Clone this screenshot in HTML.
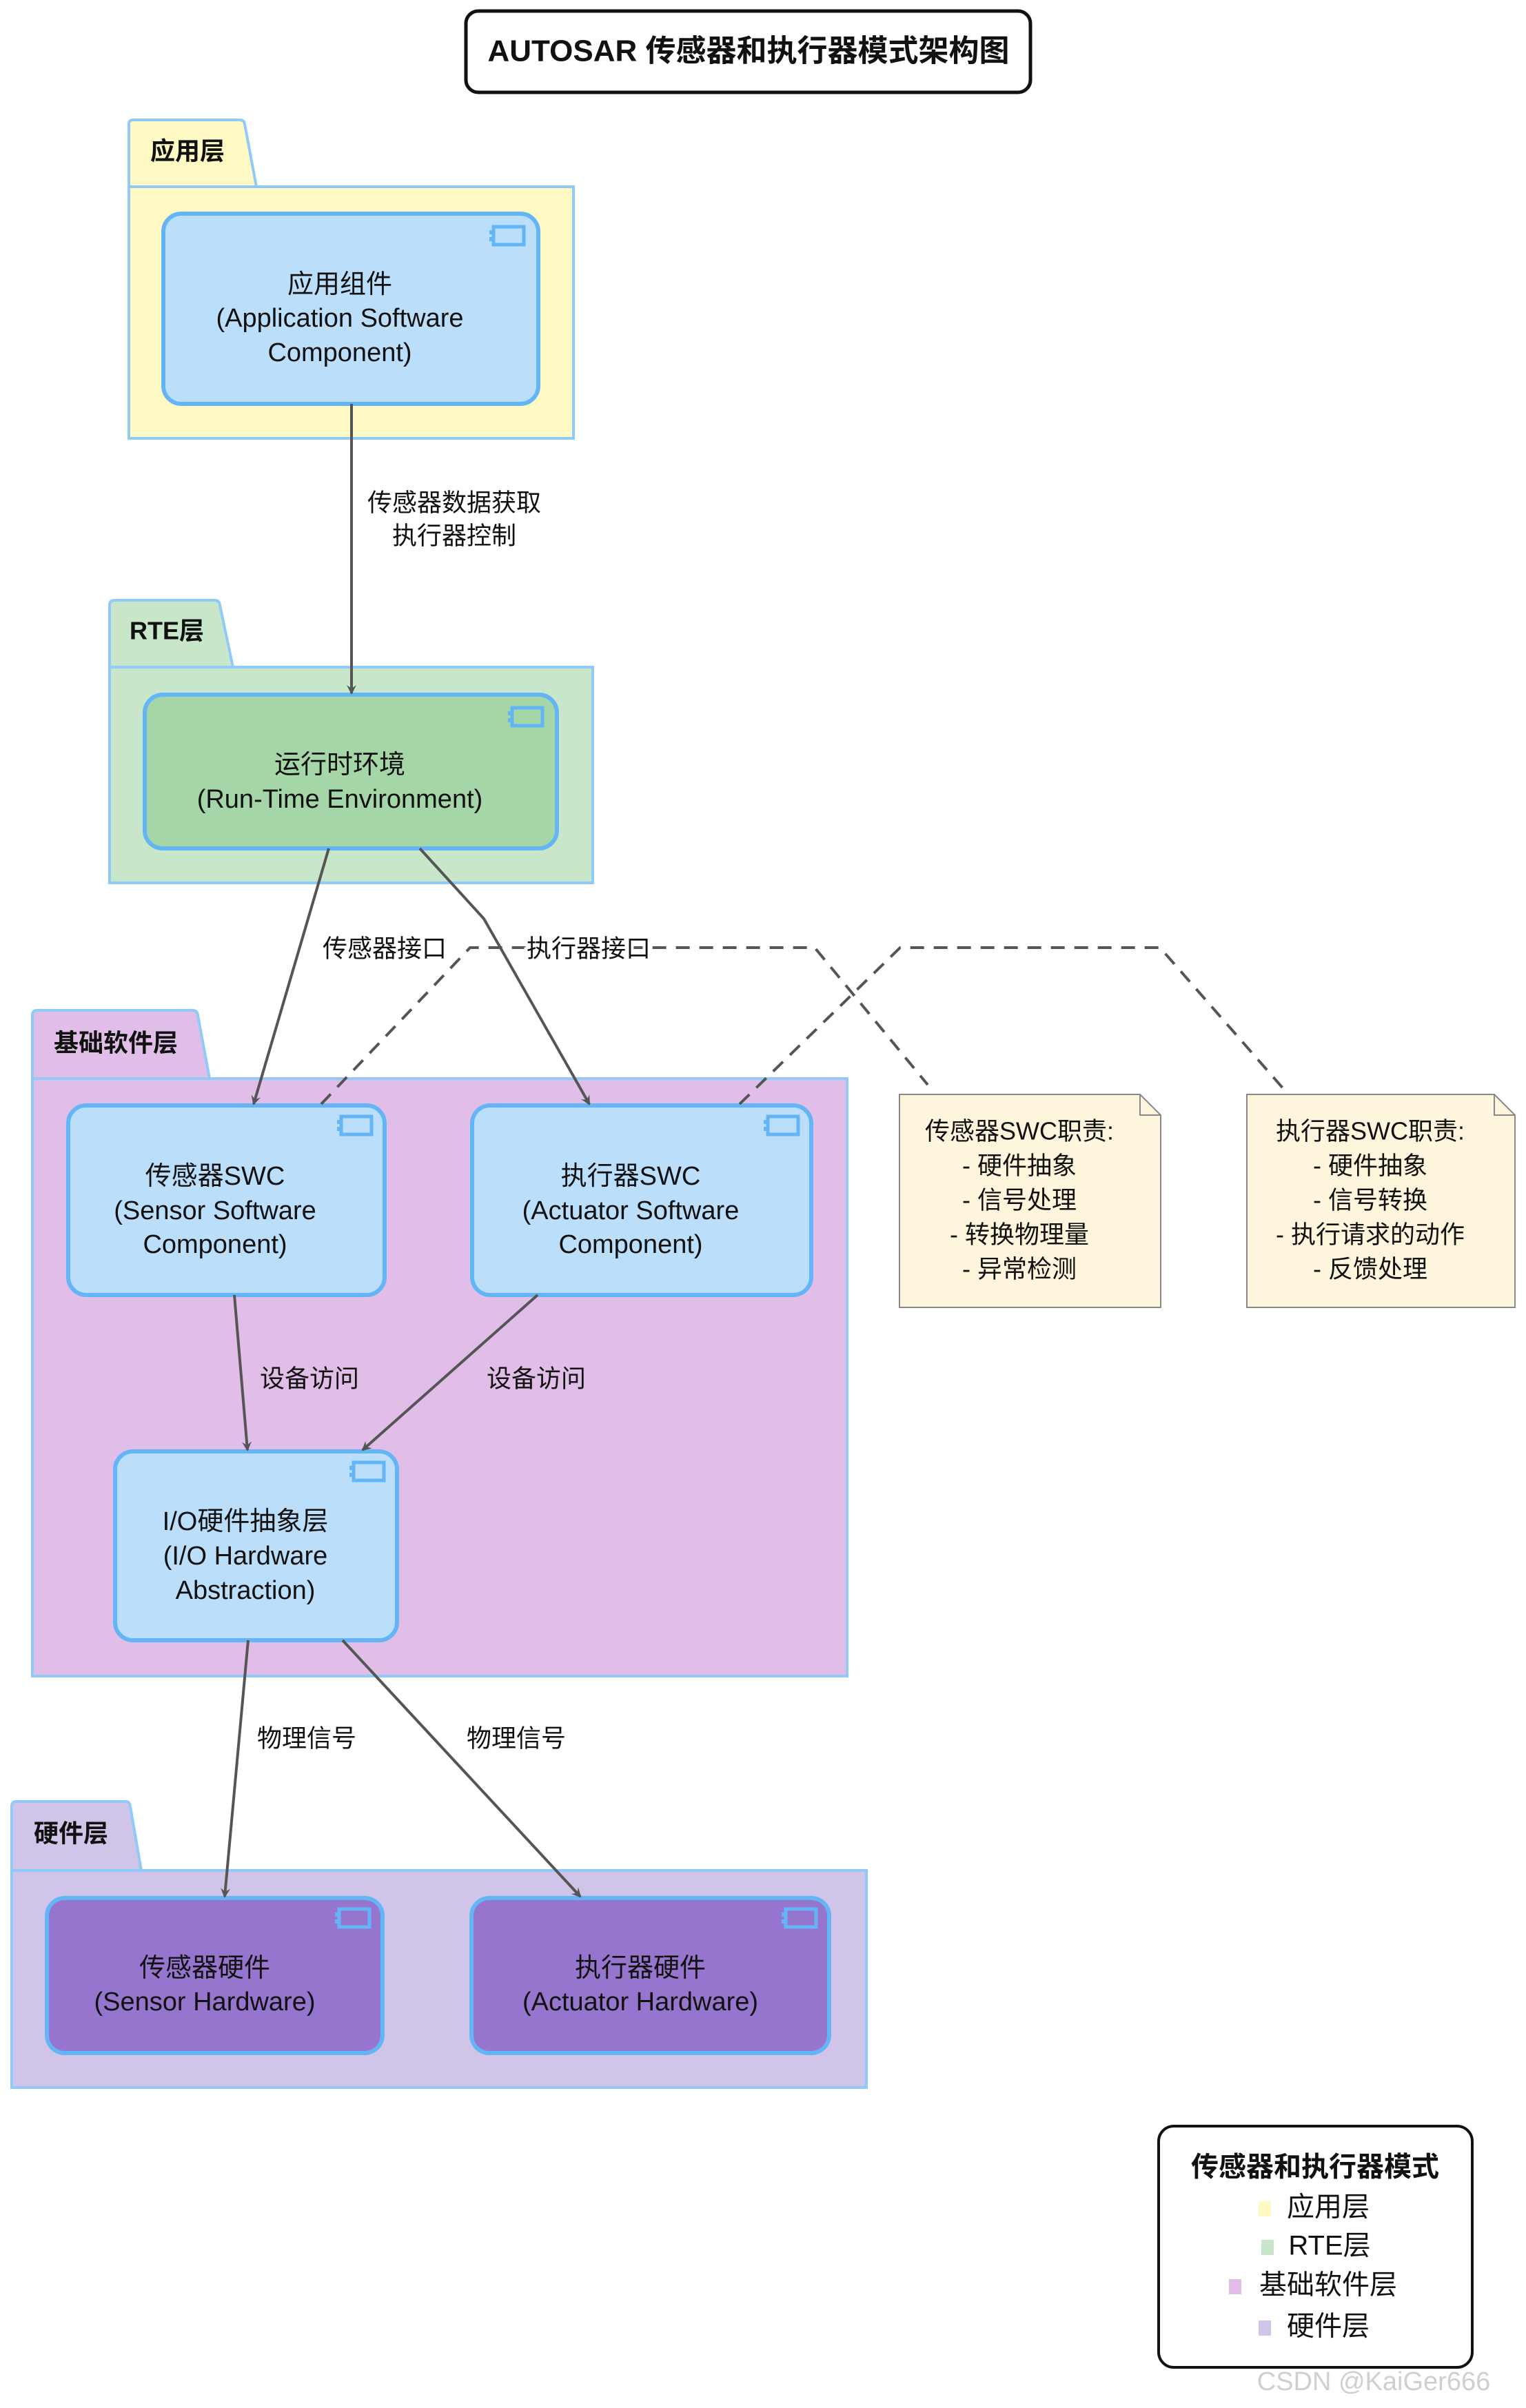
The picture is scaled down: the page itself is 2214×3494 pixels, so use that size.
<!DOCTYPE html>
<html><head><meta charset="utf-8"><style>body{margin:0;background:#fff}svg{display:block}text{font-family:"Liberation Sans","Noto Sans CJK SC",sans-serif;fill:#111;dominant-baseline:middle;text-anchor:middle}</style></head><body>
<svg width="2214" height="3494" viewBox="0 0 2214 3494" xmlns="http://www.w3.org/2000/svg">
<defs><marker id="a" markerWidth="14" markerHeight="14" refX="12" refY="7" orient="auto" markerUnits="userSpaceOnUse" viewBox="0 0 14 14"><path d="M0,0 L14,7 L0,14 L5,7 Z" fill="#555"/></marker>
<g id="ic"><rect x="0" y="0" width="44" height="26" fill="none" stroke="#64b5f6" stroke-width="5"/><rect x="-6" y="5" width="8" height="6" fill="#64b5f6"/><rect x="-6" y="15" width="8" height="6" fill="#64b5f6"/></g></defs>
<!-- title -->
<rect x="676" y="16" width="819" height="118" rx="18" fill="#fff" stroke="#111" stroke-width="5"/>
<text x="1086" y="77" font-size="44" font-weight="bold">AUTOSAR 传感器和执行器模式架构图</text>
<!-- app pkg -->
<path d="M187,271 V180 Q187,174 193,174 H348 Q354,174 355,180 L372,271 Z" fill="#fff9c4" stroke="#90caf9" stroke-width="4"/>
<rect x="187" y="271" width="645" height="365" fill="#fff9c4" stroke="#90caf9" stroke-width="4"/>
<text x="272" y="222" font-size="36" font-weight="bold">应用层</text>
<rect x="237" y="310" width="544" height="276" rx="26" fill="#bbdefb" stroke="#64b5f6" stroke-width="6"/>
<use href="#ic" x="716" y="329"/>
<text x="493" y="415" font-size="38">应用组件</text>
<text x="493" y="464" font-size="38">(Application Software</text>
<text x="493" y="514" font-size="38">Component)</text>
<!-- RTE pkg -->
<path d="M159,968 V878 Q159,871 166,871 H312 Q318,871 319,878 L338,968 Z" fill="#c8e6c9" stroke="#90caf9" stroke-width="4"/>
<rect x="159" y="968" width="701" height="313" fill="#c8e6c9" stroke="#90caf9" stroke-width="4"/>
<text x="242" y="918" font-size="36" font-weight="bold">RTE层</text>
<rect x="210" y="1008" width="598" height="223" rx="26" fill="#a5d6a7" stroke="#64b5f6" stroke-width="6"/>
<use href="#ic" x="743" y="1027"/>
<text x="493" y="1112" font-size="38">运行时环境</text>
<text x="493" y="1162" font-size="38">(Run-Time Environment)</text>
<!-- base pkg -->
<path d="M47,1565 V1473 Q47,1466 54,1466 H280 Q286,1466 287,1473 L304,1565 Z" fill="#e1bee7" stroke="#90caf9" stroke-width="4"/>
<rect x="47" y="1565" width="1182" height="867" fill="#e1bee7" stroke="#90caf9" stroke-width="4"/>
<text x="168" y="1516" font-size="36" font-weight="bold">基础软件层</text>
<rect x="99" y="1604" width="459" height="275" rx="26" fill="#bbdefb" stroke="#64b5f6" stroke-width="6"/>
<use href="#ic" x="495" y="1620"/>
<text x="312" y="1709" font-size="38">传感器SWC</text>
<text x="312" y="1759" font-size="38">(Sensor Software</text>
<text x="312" y="1808" font-size="38">Component)</text>
<rect x="685" y="1604" width="492" height="275" rx="26" fill="#bbdefb" stroke="#64b5f6" stroke-width="6"/>
<use href="#ic" x="1114" y="1620"/>
<text x="915" y="1709" font-size="38">执行器SWC</text>
<text x="915" y="1759" font-size="38">(Actuator Software</text>
<text x="915" y="1808" font-size="38">Component)</text>
<rect x="167" y="2106" width="409" height="274" rx="26" fill="#bbdefb" stroke="#64b5f6" stroke-width="6"/>
<use href="#ic" x="513" y="2122"/>
<text x="356" y="2210" font-size="38">I/O硬件抽象层</text>
<text x="356" y="2260" font-size="38">(I/O Hardware</text>
<text x="356" y="2310" font-size="38">Abstraction)</text>
<!-- hw pkg -->
<path d="M17,2714 V2621 Q17,2614 24,2614 H182 Q188,2614 189,2621 L205,2714 Z" fill="#d1c4e9" stroke="#90caf9" stroke-width="4"/>
<rect x="17" y="2714" width="1240" height="315" fill="#d1c4e9" stroke="#90caf9" stroke-width="4"/>
<text x="103" y="2663" font-size="36" font-weight="bold">硬件层</text>
<rect x="68" y="2754" width="487" height="225" rx="26" fill="#9575cd" stroke="#64b5f6" stroke-width="6"/>
<use href="#ic" x="492" y="2770"/>
<text x="297" y="2858" font-size="38">传感器硬件</text>
<text x="297" y="2907" font-size="38">(Sensor Hardware)</text>
<rect x="684" y="2754" width="519" height="225" rx="26" fill="#9575cd" stroke="#64b5f6" stroke-width="6"/>
<use href="#ic" x="1140" y="2770"/>
<text x="929" y="2858" font-size="38">执行器硬件</text>
<text x="929" y="2907" font-size="38">(Actuator Hardware)</text>
<!-- notes -->
<path d="M1305,1588 H1654 L1684,1618 V1897 H1305 Z" fill="#fdf6dc" stroke="#888" stroke-width="2"/>
<path d="M1654,1588 V1618 H1684" fill="none" stroke="#888" stroke-width="2"/>
<text x="1479" y="1644" font-size="36">传感器SWC职责:</text>
<text x="1479" y="1694" font-size="36">- 硬件抽象</text>
<text x="1479" y="1744" font-size="36">- 信号处理</text>
<text x="1479" y="1794" font-size="36">- 转换物理量</text>
<text x="1479" y="1844" font-size="36">- 异常检测</text>
<path d="M1809,1588 H2168 L2198,1618 V1897 H1809 Z" fill="#fdf6dc" stroke="#888" stroke-width="2"/>
<path d="M2168,1588 V1618 H2198" fill="none" stroke="#888" stroke-width="2"/>
<text x="1988" y="1644" font-size="36">执行器SWC职责:</text>
<text x="1988" y="1694" font-size="36">- 硬件抽象</text>
<text x="1988" y="1744" font-size="36">- 信号转换</text>
<text x="1988" y="1794" font-size="36">- 执行请求的动作</text>
<text x="1988" y="1844" font-size="36">- 反馈处理</text>
<!-- dashed -->
<g fill="none" stroke="#555" stroke-width="4" stroke-dasharray="20,14">
<path d="M466,1602 L682,1375 H1182 L1346,1574"/>
<path d="M1073,1602 L1306,1375 H1683 L1864,1582"/>
</g>
<!-- arrows -->
<g fill="none" stroke="#555" stroke-width="4" marker-end="url(#a)">
<path d="M510,586 V1006"/>
<path d="M477,1231 L368,1602"/>
<path d="M609,1231 L702,1333 L855,1602"/>
<path d="M340,1879 L359,2104"/>
<path d="M780,1879 L526,2104"/>
<path d="M360,2380 L326,2752"/>
<path d="M497,2380 L842,2752"/>
</g>
<g font-size="36">
<text x="659" y="732">传感器数据获取</text>
<text x="659" y="780">执行器控制</text>
<text x="558" y="1379" style="paint-order:stroke" stroke="#fff" stroke-width="8">传感器接口</text>
<text x="854" y="1379" style="paint-order:stroke" stroke="#fff" stroke-width="8">执行器接口</text>
<text x="449" y="2003">设备访问</text>
<text x="778" y="2003">设备访问</text>
<text x="445" y="2525">物理信号</text>
<text x="749" y="2525">物理信号</text>
</g>
<!-- legend -->
<rect x="1681" y="3085" width="455" height="350" rx="22" fill="#fff" stroke="#111" stroke-width="4"/>
<text x="1908" y="3147" font-size="40" font-weight="bold">传感器和执行器模式</text>
<rect x="1826" y="3194" width="18" height="22" fill="#fff9c4"/><text x="1927" y="3205" font-size="40">应用层</text>
<rect x="1830" y="3250" width="18" height="22" fill="#c8e6c9"/><text x="1929" y="3261" font-size="40">RTE层</text>
<rect x="1783" y="3307" width="18" height="22" fill="#e1bee7"/><text x="1927" y="3318" font-size="40">基础软件层</text>
<rect x="1826" y="3367" width="18" height="22" fill="#d1c4e9"/><text x="1927" y="3378" font-size="40">硬件层</text>
<text x="1993" y="3458" font-size="38" fill="#ccc" style="fill:#cfcfcf">CSDN @KaiGer666</text>
</svg>
</body></html>
